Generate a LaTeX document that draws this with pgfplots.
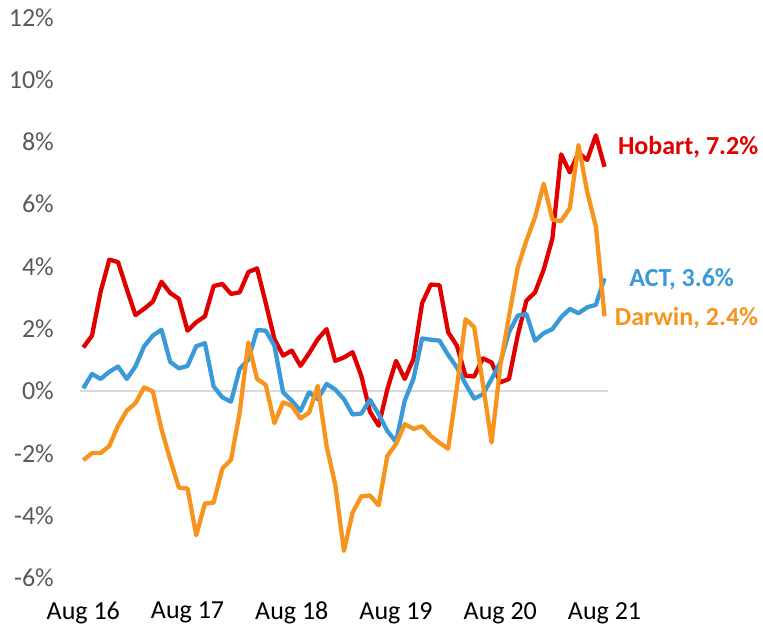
\documentclass[border=0pt]{standalone}
\usepackage{fontspec}
\setmainfont{Carlito}
\usepackage{pgfplots}
\usepackage{pgfplotstable}
\pgfplotsset{compat=1.18}

\definecolor{hobart}{HTML}{E00000}
\definecolor{act}{HTML}{3A9AD9}
\definecolor{darwin}{HTML}{F7941D}
\definecolor{ticktext}{HTML}{595959}

% annual change, monthly from Aug 16 (i=0) to Aug 21 (i=60)
\pgfplotstableread{
i   hob    act    drw
0   1.40   0.09  -2.22
1   1.78   0.55  -1.99
2   3.20   0.39  -1.99
3   4.22   0.62  -1.76
4   4.14   0.79  -1.11
5   3.28   0.39  -0.63
6   2.44   0.79  -0.39
7   2.64   1.44   0.12
8   2.87   1.78  -0.01
9   3.51   1.97  -1.22
10  3.15   0.94  -2.19
11  2.96   0.73  -3.10
12  1.94   0.81  -3.13
13  2.21   1.44  -4.63
14  2.40   1.54  -3.61
15  3.37   0.15  -3.58
16  3.44  -0.20  -2.49
17  3.12  -0.34  -2.21
18  3.17   0.71  -0.69
19  3.82   1.01   1.56
20  3.94   1.96   0.39
21  2.83   1.94   0.20
22  1.67   1.46  -1.03
23  1.14  -0.04  -0.36
24  1.30  -0.31  -0.47
25  0.81  -0.63  -0.88
26  1.22  -0.04  -0.69
27  1.67  -0.26   0.17
28  1.99   0.23  -1.76
29  0.97   0.05  -3.00
30  1.08  -0.26  -5.13
31  1.25  -0.75  -3.90
32  0.49  -0.72  -3.38
33 -0.66  -0.28  -3.35
34 -1.11  -0.74  -3.67
35  0.06  -1.28  -2.08
36  0.97  -1.63  -1.70
37  0.39  -0.31  -1.06
38  1.03   0.39  -1.21
39  2.82   1.69  -1.13
40  3.42   1.65  -1.44
41  3.40   1.62  -1.66
42  1.89   1.16  -1.85
43  1.46   0.76   0.10
44  0.49   0.23   2.31
45  0.47  -0.24   2.05
46  1.05  -0.10   0.22
47  0.92   0.39  -1.65
48  0.28   0.92   0.80
49  0.39   1.89   2.40
50  1.78   2.42   3.95
51  2.90   2.48   4.83
52  3.17   1.62   5.58
53  3.90   1.86   6.66
54  4.90   1.99   5.50
55  7.60   2.37   5.46
56  7.02   2.64   5.87
57  7.65   2.50   7.90
58  7.42   2.69   6.40
59  8.21   2.77   5.29
60  7.20   3.62   2.40
}\rents

\begin{document}
\begin{tikzpicture}
\useasboundingbox (0,0) rectangle (763pt,627pt);
\begin{axis}[
at={(80pt,49pt)},anchor=south west,
scale only axis,width=528pt,height=560.7pt,
xmin=-0.38,xmax=60.4,ymin=-6,ymax=12,
axis line style={draw=none},tick style={draw=none},
xtick={0,12,24,36,48,60},
xticklabels={Aug 16,Aug 17,Aug 18,Aug 19,Aug 20,Aug 21},
ytick={-6,-4,...,12},
yticklabels={-6\%,-4\%,-2\%,0\%,2\%,4\%,6\%,8\%,10\%,12\%},
xticklabel style={font=\fontsize{26}{31}\selectfont,text=black,inner sep=0pt,anchor=north,yshift=-24pt},
yticklabel style={font=\fontsize{26}{31}\selectfont,text=ticktext,inner sep=0pt,anchor=east,xshift=-26pt},
extra y ticks={0},extra y tick labels={},
extra y tick style={grid=major,major grid style={draw=black!15,line width=2pt}},
clip=false,
every axis plot/.append style={line width=4.3pt,line join=round,no markers}]
\addplot[hobart] table[x=i,y=hob]{\rents};
\addplot[act] table[x=i,y=act]{\rents};
\addplot[darwin] table[x=i,y=drw]{\rents};
\node[anchor=base west,inner sep=0pt,text=hobart,font=\fontsize{26}{31}\selectfont\bfseries] at (axis cs:61.53,7.61) {Hobart, 7.2\%};
\node[anchor=base west,inner sep=0pt,text=act,font=\fontsize{26}{31}\selectfont\bfseries] at (axis cs:62.83,3.37) {ACT, 3.6\%};
\node[anchor=base west,inner sep=0pt,text=darwin,font=\fontsize{26}{31}\selectfont\bfseries] at (axis cs:61.18,2.12) {Darwin, 2.4\%};
\end{axis}
\end{tikzpicture}
\end{document}
